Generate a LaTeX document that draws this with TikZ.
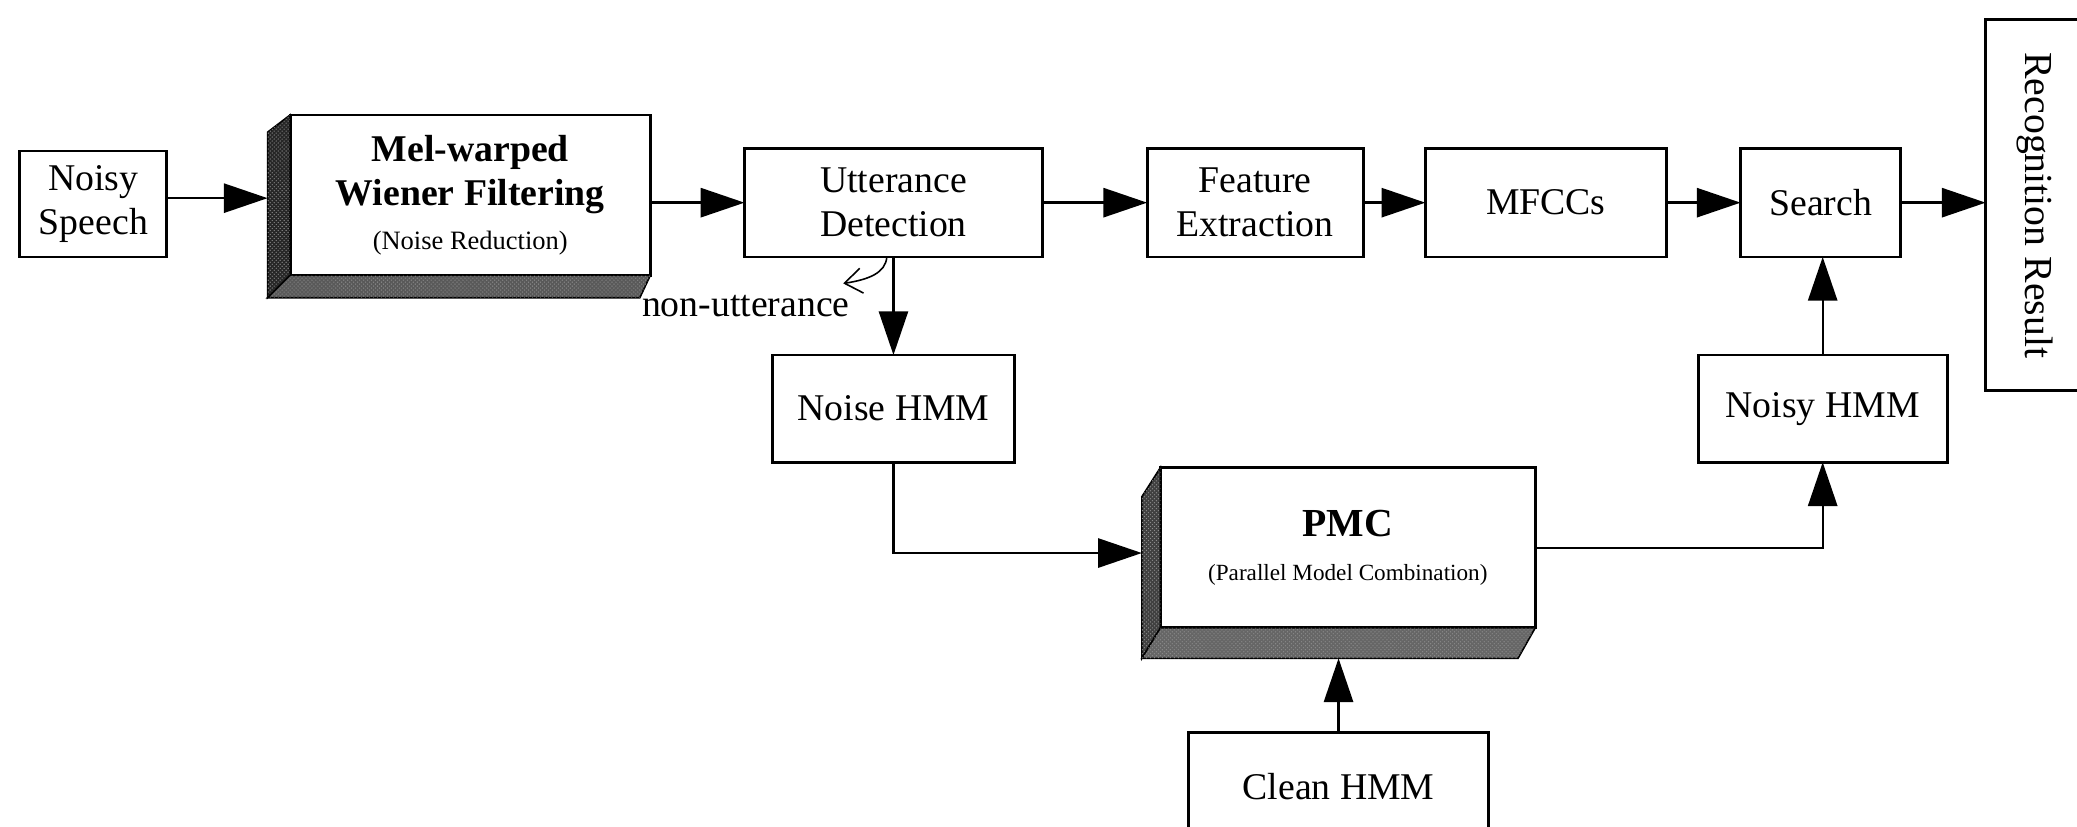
\documentclass[tikz,border=0pt]{standalone}
\usepackage{fontspec}
\usepackage{graphicx}
\setmainfont{Liberation Serif}
\usetikzlibrary{arrows.meta,calc,patterns}
\begin{document}
\begin{tikzpicture}[x=1pt,y=-1pt,
  blk/.style={draw, line width=2.2pt, fill=white, inner sep=0pt, outer sep=0pt,
    align=center, font=\fontsize{28.5}{33}\selectfont},
  flow/.style={line width=1.8pt, -{Triangle[length=33pt,width=22pt]}},
  nonut/.style={line width=1.2pt, -{Straight Barb[length=13pt,width=19pt,line width=1.2pt]}},
  darkface/.style={fill=black!85, draw=black, line width=1.2pt},
  midface/.style={fill=black!65, draw=black, line width=1.2pt},
  speckle/.style={pattern=crosshatch dots, pattern color=white!55!black}]
\useasboundingbox (0,0) rectangle (1568,624);
\clip (0,0) rectangle (1568,624);

% processing chain
\node[blk, minimum width=111, minimum height=80] (noisy) at (70.5,154) {Noisy\\Speech};
\node[blk, minimum width=272, minimum height=121] (mel) at (355,147.3)
  {\textbf{Mel-warped}\\\textbf{Wiener Filtering}\\{\fontsize{20}{22}\selectfont (Noise Reduction)}};
\node[blk, minimum width=225, minimum height=82] (utt) at (674.5,153) {Utterance\\Detection};
\node[blk, minimum width=163, minimum height=82] (feat) at (947.5,153) {Feature\\Extraction};
\node[blk, minimum width=182, minimum height=82] (mfcc) at (1167,153) {MFCCs};
\node[blk, minimum width=121, minimum height=82] (search) at (1374.5,153) {Search};
\node[blk, minimum width=75, minimum height=280, font=\fontsize{30}{33}\selectfont] (rec) at (1536.5,155)
  {\rotatebox{-90}{Recognition Result}};

% model adaptation branch
\node[blk, minimum width=183, minimum height=81] (noiseh) at (674.5,308.5) {Noise HMM};
\node[blk, minimum width=188, minimum height=81] (noisyh) at (1376,308.5) {Noisy HMM};
\node[blk, minimum width=283, minimum height=121] (pmc) at (1017.5,413.5)
  {{\bfseries\fontsize{30}{30}\selectfont PMC}\\{\fontsize{17.5}{20}\selectfont (Parallel Model Combination)}};
\node[blk, minimum width=227, minimum height=82] (clean) at (1010.5,594) {Clean HMM};

% extruded sides of the two main blocks
\path[darkface] (mel.north west) -- ++(-17,13) -- ($(mel.south west)+(-17,17)$)
  -- (mel.south west) -- cycle;
\path[speckle] (mel.north west) -- ++(-17,13) -- ($(mel.south west)+(-17,17)$)
  -- (mel.south west) -- cycle;
\path[midface] (mel.south west) -- ++(-17,17) -- ($(mel.south east)+(-8,17)$)
  -- (mel.south east) -- cycle;
\path[speckle] (mel.south west) -- ++(-17,17) -- ($(mel.south east)+(-8,17)$)
  -- (mel.south east) -- cycle;
\path[darkface, fill=black!75] (pmc.north west) -- ++(-14,22) -- ($(pmc.south west)+(-14,23)$)
  -- (pmc.south west) -- cycle;
\path[speckle] (pmc.north west) -- ++(-14,22) -- ($(pmc.south west)+(-14,23)$)
  -- (pmc.south west) -- cycle;
\path[midface, fill=black!60] (pmc.south west) -- ++(-14,23) -- ($(pmc.south east)+(-13,23)$)
  -- (pmc.south east) -- cycle;
\path[speckle] (pmc.south west) -- ++(-14,23) -- ($(pmc.south east)+(-13,23)$)
  -- (pmc.south east) -- cycle;

\coordinate (melin) at ($(mel.west)+(-17,2.3)$);
\coordinate (pmcin) at ($(pmc.west)+(-14,4)$);
\coordinate (pmcbot) at ($(pmc.south)+(-14,23)$);

% connectors
\draw[flow] (noisy.east |- melin) -- (melin);
\draw[flow] (mel.east |- utt.west) -- (utt.west);
\draw[flow] (utt.east) -- (feat.west);
\draw[flow] (feat.east) -- (mfcc.west);
\draw[flow] (mfcc.east) -- (search.west);
\draw[flow] (search.east) -- (search.east -| rec.west);
\draw[flow] (utt.south) -- (noiseh.north);
\draw[flow] (noiseh.south) |- (pmcin);
\draw[flow] (pmc.east) -| (noisyh.south);
\draw[flow] (noisyh.north) -- (noisyh.north |- search.south);
\draw[flow] (clean.north) -- (clean.north |- pmcbot);

% non-utterance side exit
\coordinate (nu0) at ($(utt.south)+(-5,0)$);
\coordinate (nu1) at (636.6,214);
\draw[nonut] (nu0) .. controls (668.5,206) and (656,211) .. (nu1);
\node[font=\fontsize{28.5}{33}\selectfont, inner sep=0pt] (nutxt) at (563,231) {non-utterance};
\end{tikzpicture}
\end{document}
